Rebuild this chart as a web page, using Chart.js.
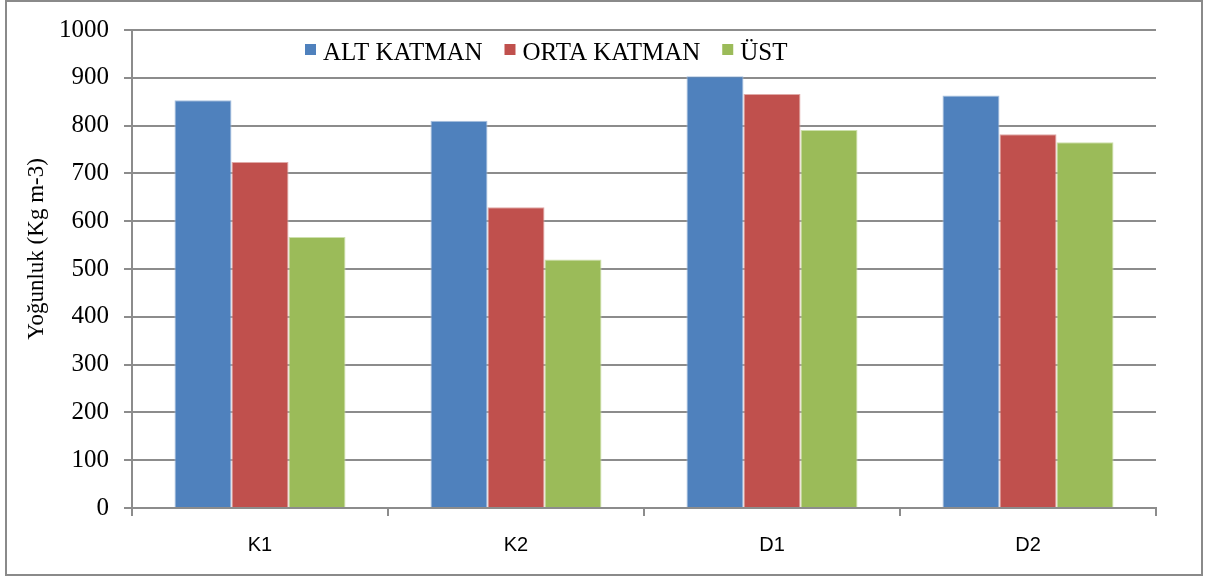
<!DOCTYPE html>
<html>
<head>
<meta charset="utf-8">
<script src="https://cdn.jsdelivr.net/npm/chart.js@4"></script>
<style>
  html, body { margin: 0; padding: 0; background: #fff; }
  #wrap { width: 1211px; height: 579px; }
</style>
</head>
<body>
<div id="wrap"><canvas id="chart" width="1211" height="579"></canvas></div>
<script>
// Data
const categories = ['K1', 'K2', 'D1', 'D2'];
const altKatman = [853, 810, 903, 863];
const ortaKatman = [724, 629, 866, 782];
const ust = [567, 520, 791, 765];
const seriesNames = ['ALT KATMAN', 'ORTA KATMAN', 'ÜST'];
const yMin = 0;
const yMax = 1000;
const yStep = 100;
const yTitle = 'Yoğunluk (Kg m-3)';

const gridGray = '#8c8c8c';

// outer frame, in-plot legend and the axis title
const framePlugin = {
  id: 'frame',
  beforeDraw(chart) {
    const ctx = chart.ctx;
    ctx.save();
    ctx.fillStyle = '#fff';
    ctx.fillRect(0, 0, chart.width, chart.height);
    ctx.strokeStyle = '#8a8a8a';
    ctx.lineWidth = 2;
    ctx.strokeRect(6, 1, 1196, 574);
    ctx.restore();
  },
  afterDraw(chart) {
    const ctx = chart.ctx;
    ctx.save();
    // y axis title
    ctx.translate(43, 249);
    ctx.rotate(-Math.PI / 2);
    ctx.font = '23px "Liberation Serif", "Times New Roman", serif';
    ctx.fillStyle = '#000';
    ctx.textAlign = 'center';
    ctx.textBaseline = 'alphabetic';
    ctx.fillText(yTitle, 0, 0);
    ctx.restore();

    // legend
    ctx.save();
    ctx.font = '25px "Liberation Serif", "Times New Roman", serif';
    ctx.textBaseline = 'alphabetic';
    ctx.textAlign = 'left';
    let x = 305;
    chart.data.datasets.forEach(ds => {
      ctx.fillStyle = ds.backgroundColor;
      ctx.fillRect(x, 44, 11, 11);
      ctx.fillStyle = '#000';
      ctx.fillText(ds.label, x + 18, 60);
      x += 18 + ctx.measureText(ds.label).width + 22;
    });
    ctx.restore();
  }
};

function bars(label, data, fill, edge) {
  return {
    label: label,
    data: data,
    backgroundColor: fill,
    borderColor: edge,
    borderWidth: 1,
    barPercentage: 1,
    categoryPercentage: 0.668
  };
}

new Chart(document.getElementById('chart'), {
  type: 'bar',
  data: {
    labels: categories,
    datasets: [
      bars(seriesNames[0], altKatman, '#4F81BD', '#a9c1df'),
      bars(seriesNames[1], ortaKatman, '#C0504D', '#e0a9a7'),
      bars(seriesNames[2], ust, '#9BBB59', '#cde0ad')
    ]
  },
  options: {
    responsive: false,
    devicePixelRatio: 1,
    animation: false,
    layout: { padding: { left: 0, right: 55, top: 29, bottom: 0 } },
    plugins: {
      legend: { display: false },
      tooltip: { enabled: false }
    },
    scales: {
      x: {
        afterFit(scale) { scale.height = 71; },
        grid: {
          offset: true,
          drawOnChartArea: false,
          tickLength: 8,
          color: gridGray,
          lineWidth: 2
        },
        border: { color: gridGray, width: 2 },
        ticks: {
          color: '#000',
          padding: 17,
          font: { family: '"Liberation Sans", Arial, sans-serif', size: 20 }
        }
      },
      y: {
        min: yMin,
        max: yMax,
        afterFit(scale) { scale.width = 132; },
        grid: {
          color: gridGray,
          lineWidth: 2,
          tickLength: 8
        },
        border: { color: gridGray, width: 2 },
        ticks: {
          stepSize: yStep,
          color: '#000',
          padding: 15,
          callback: v => String(v),
          font: { family: '"Liberation Serif", "Times New Roman", serif', size: 25 }
        }
      }
    }
  },
  plugins: [framePlugin]
});
</script>
</body>
</html>
